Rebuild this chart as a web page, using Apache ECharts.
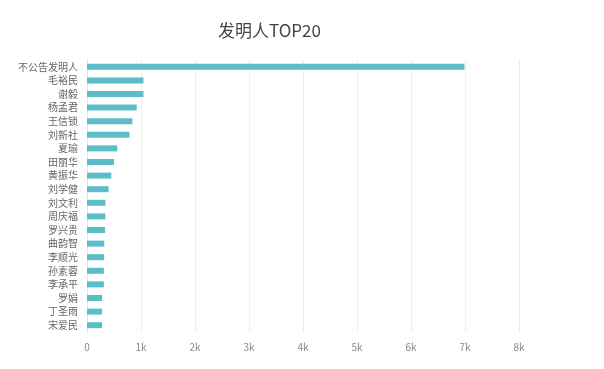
<!DOCTYPE html>
<html><head><meta charset="utf-8">
<script src="https://cdn.jsdelivr.net/npm/echarts@6/dist/echarts.min.js"></script>
<style>html,body{margin:0;padding:0;background:#fff}#c{width:604px;height:369px}</style>
</head><body><div id="c"></div>
<script>
const categories = ['不公告发明人','毛裕民','谢毅','杨孟君','王信锁','刘新社','夏瑜','田丽华','黄振华','刘学健','刘文利','周庆福','罗兴贵','曲韵智','李顺光','孙素蓉','李承平','罗娟','丁圣雨','宋爱民'];
const values = [6990,1045,1045,920,840,785,560,500,450,400,340,340,335,320,318,312,312,280,278,278];
const xTicks = ['0','1k','2k','3k','4k','5k','6k','7k','8k'];

const chart = echarts.init(document.getElementById('c'));
chart.setOption({
  animation: false,
  title: { text: '发明人TOP20', left: 213, top: 17, textStyle: { fontSize: 17, fontWeight: 'normal', color: '#444', fontFamily: 'Noto Sans CJK SC' } },
  grid: { left: 87, right: 85, top: 60, bottom: 37 },
  xAxis: {
    type: 'value', min: 0, max: 8000, interval: 1000,
    axisLine: { show: false }, axisTick: { show: false },
    splitLine: { lineStyle: { color: '#eee' } },
    axisLabel: { color: '#888', fontSize: 10, margin: 10, fontFamily: 'Noto Sans CJK SC',
      formatter: v => xTicks[Math.round(v / 1000)] }
  },
  yAxis: {
    type: 'category', inverse: true, data: categories,
    axisLine: { lineStyle: { color: '#e6e6e6' } },
    axisTick: { length: 4, lineStyle: { color: '#ddd' } },
    axisLabel: { color: '#666', fontSize: 10, margin: 9, fontFamily: 'Noto Sans CJK SC' }
  },
  series: [{ type: 'bar', data: values, barWidth: 6, itemStyle: { color: '#5cbdc9' } }]
});
</script></body></html>
